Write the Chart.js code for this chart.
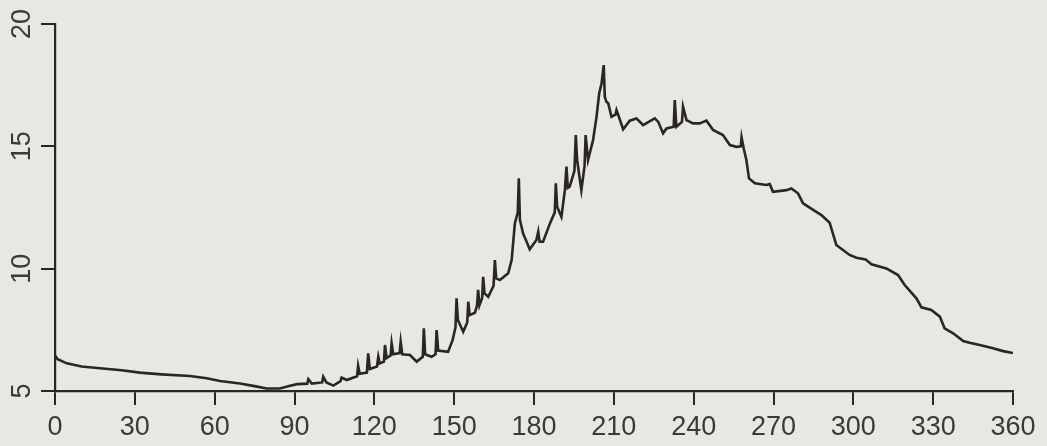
<!DOCTYPE html>
<html>
<head>
<meta charset="utf-8">
<script src="https://cdn.jsdelivr.net/npm/chart.js@4/dist/chart.umd.min.js"></script>
<style>
    html, body { margin: 0; padding: 0; background: #e7e8e2; }
    canvas { display: block; }
</style>
</head>
<body>
<canvas id="trace" width="1047" height="446"></canvas>
<script>
// Trace samples: position along the run and the measured value there.
const positions = [
    0, 1, 4.4, 10, 16.9, 25, 31.9, 40, 50.7, 57, 62, 69.5, 75, 79.5, 84.5, 88, 91,
    94.8, 95.2, 96.5, 100.4, 100.8, 102, 104.6, 107.3, 107.7, 109.6, 113.5, 113.9, 114.5,
    117.2, 117.7, 118.3, 121, 121.5, 122, 123.6, 124, 124.6, 126.1, 126.5, 127.1, 129.5,
    129.9, 130.5, 133.4, 135.9, 138.2, 138.6, 139.1, 141.5, 143, 143.4, 144, 147.7, 149.4,
    150.5, 150.9, 151.4, 153.4, 154.9, 155.3, 155.8, 157.8, 158.6, 159, 159.5, 160.5, 160.9,
    161.4, 162.8, 164.8, 165.3, 165.8, 167.2, 170.3, 171.6, 172.8, 173.9, 174.3, 174.7,
    175.9, 178.4, 180.9, 181.6, 182.1, 183.4, 186, 187.8, 188.2, 188.7, 190.3, 191.6, 192.2,
    192.7, 193.4, 195.2, 195.7, 196.2, 197.8, 199, 199.4, 200.3, 202.2, 203.5, 204.5, 205.4,
    206.2, 206.6, 207.2, 207.9, 209.1, 210.6, 211, 211.6, 213.5, 216, 218.5, 221, 225.4,
    226.7, 228.5, 229.8, 232.5, 232.9, 233.5, 235.6, 236, 237.3, 239.8, 242.3, 244.8, 247.3,
    251, 253.6, 256.1, 257.7, 258, 258.8, 259.8, 260.8, 263, 267.3, 268.6, 269.8, 274.9,
    276.7, 279.2, 281.1, 284.9, 288, 291.1, 293.6, 298.6, 301.2, 304.6, 306.8, 312.4, 316.8,
    319.3, 323.7, 325.6, 329.3, 332.5, 334.3, 337.5, 341.3, 343.7, 347.5, 352.5, 356.3, 360
];
const values = [
    6.45, 6.3, 6.13, 6.0, 5.93, 5.85, 5.75, 5.68, 5.61, 5.52, 5.41, 5.31, 5.2, 5.1, 5.1, 5.2, 5.28,
    5.3, 5.48, 5.3, 5.35, 5.58, 5.35, 5.22, 5.4, 5.55, 5.45, 5.6, 6.03, 5.7,
    5.75, 6.54, 5.9, 6.0, 6.4, 6.13, 6.2, 6.88, 6.35, 6.45, 6.95, 6.5, 6.55,
    7.01, 6.5, 6.47, 6.2, 6.4, 7.56, 6.5, 6.4, 6.5, 7.49, 6.65, 6.6, 7.08,
    7.6, 8.79, 7.9, 7.42, 7.8, 8.65, 8.1, 8.2, 8.5, 9.13, 8.5, 8.8, 9.67,
    9.0, 8.85, 9.3, 10.35, 9.6, 9.54, 9.81, 10.35, 11.85, 12.3, 13.69, 12.0,
    11.44, 10.79, 11.17, 11.51, 11.1, 11.1, 11.85, 12.3, 13.49, 12.53, 12.12, 13.21, 14.17,
    13.3, 13.35, 14.0, 15.46, 14.44, 13.21, 14.2, 15.46, 14.44, 15.26, 16.21, 17.17, 17.58,
    18.32, 17.03, 16.82, 16.76, 16.21, 16.3, 16.48, 16.3, 15.7, 16.05, 16.14, 15.87, 16.14,
    16.0, 15.53, 15.73, 15.8, 16.89, 15.8, 16.0, 16.62, 16.07, 15.94, 15.94, 16.05, 15.67,
    15.46, 15.05, 14.98, 15.0, 15.37, 14.92, 14.44, 13.69, 13.49, 13.42, 13.46, 13.14, 13.21,
    13.28, 13.08, 12.67, 12.4, 12.19, 11.88, 10.97, 10.56, 10.45, 10.38, 10.18, 10.01, 9.74,
    9.33, 8.79, 8.42, 8.31, 8.04, 7.56, 7.36, 7.04, 6.97, 6.88, 6.75, 6.63, 6.55
];

// Axis ranges and tick spacing.
const xRange = [0, 360];
const xStep = 30;
const yRange = [5, 20];
const yStep = 5;

const ink = "#2b2527";
const tickFont = { family: "'Liberation Sans', Arial, sans-serif", size: 27 };

// Left axis labels are drawn turned on their side, so they get painted here.
const sidewaysYLabels = {
    id: "sidewaysYLabels",
    afterDraw(chart) {
        const scale = chart.scales.y;
        const ctx = chart.ctx;
        ctx.save();
        ctx.fillStyle = "#3a3a3a";
        ctx.font = `${tickFont.size}px ${tickFont.family}`;
        ctx.textAlign = "center";
        ctx.textBaseline = "middle";
        for (const tick of scale.ticks) {
            const py = scale.getPixelForValue(tick.value);
            ctx.save();
            ctx.translate(23, py);
            ctx.rotate(-Math.PI / 2);
            ctx.fillText(String(tick.value), 0, 0);
            ctx.restore();
        }
        ctx.restore();
    }
};

new Chart(document.getElementById("trace"), {
    type: "line",
    data: {
        datasets: [{
            data: positions.map((x, i) => ({ x, y: values[i] })),
            borderColor: ink,
            borderWidth: 2.6,
            pointRadius: 0,
            tension: 0,
            fill: false
        }]
    },
    options: {
        responsive: false,
        animation: false,
        devicePixelRatio: 1,
        layout: { padding: { top: 24, right: 34, left: 0, bottom: 0 } },
        plugins: {
            legend: { display: false },
            tooltip: { enabled: false }
        },
        scales: {
            x: {
                type: "linear",
                min: xRange[0],
                max: xRange[1],
                ticks: {
                    stepSize: xStep,
                    color: "#3a3a3a",
                    font: tickFont,
                    padding: 6,
                    maxRotation: 0
                },
                grid: {
                    drawOnChartArea: false,
                    drawTicks: true,
                    tickLength: 14,
                    color: ink,
                    lineWidth: 2
                },
                border: { display: true, color: ink, width: 2.2 },
                afterFit: (s) => { s.height = 55; }
            },
            y: {
                type: "linear",
                min: yRange[0],
                max: yRange[1],
                ticks: {
                    stepSize: yStep,
                    color: "rgba(0,0,0,0)",
                    font: tickFont
                },
                grid: {
                    drawOnChartArea: false,
                    drawTicks: true,
                    tickLength: 14,
                    color: ink,
                    lineWidth: 2
                },
                border: { display: true, color: ink, width: 2.2 },
                afterFit: (s) => { s.width = 55; }
            }
        }
    },
    plugins: [sidewaysYLabels]
});
</script>
</body>
</html>
